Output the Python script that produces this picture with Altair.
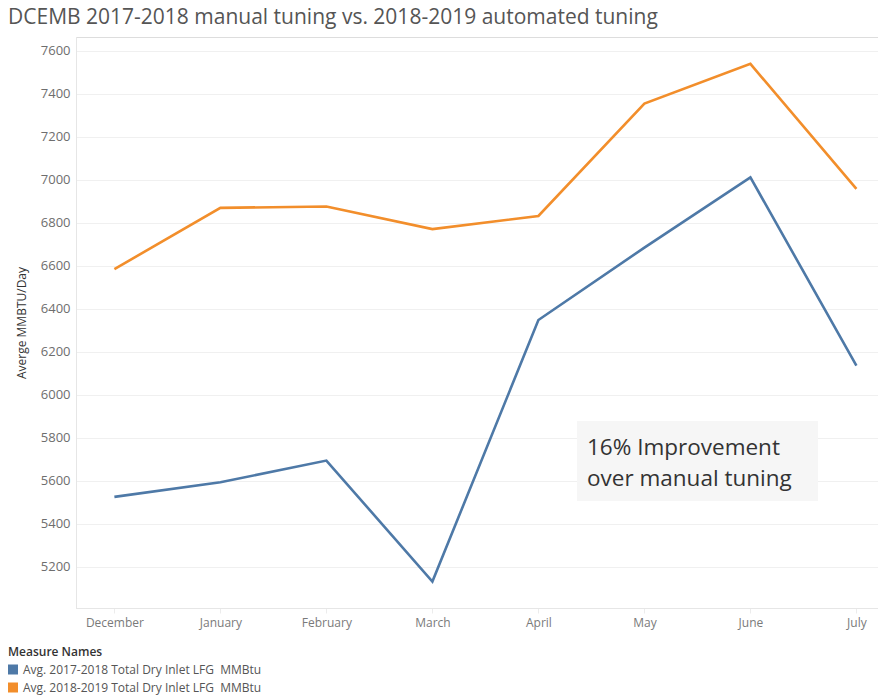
import altair as alt
import pandas as pd

months = ["December", "January", "February", "March", "April", "May", "June", "July"]
s1_name = "Avg. 2017-2018 Total Dry Inlet LFG\u00a0 MMBtu"
s2_name = "Avg. 2018-2019 Total Dry Inlet LFG\u00a0 MMBtu"
s1 = [5525, 5593, 5694, 5131, 6348, 6685, 7012, 6136]
s2 = [6585, 6870, 6876, 6771, 6832, 7355, 7540, 6958]
y_ticks = [5200, 5400, 5600, 5800, 6000, 6200, 6400, 6600, 6800, 7000, 7200, 7400, 7600]
title_text = "DCEMB 2017-2018 manual tuning vs. 2018-2019 automated tuning"
y_title = "Averge MMBTU/Day"
legend_title = "Measure Names"
note_lines = ["16% Improvement", "over manual tuning"]
series_names = [s1_name, s2_name]
colors = ["#4e79a7", "#f28e2b"]

df = pd.DataFrame({
    "Month": months * 2,
    "Measure": [s1_name] * len(months) + [s2_name] * len(months),
    "Value": s1 + s2,
})
legend_df = pd.DataFrame({"Measure": series_names})

FONT = "Open Sans"
color_scale = alt.Scale(domain=series_names, range=colors)

x_enc = alt.X("Month:N", sort=months,
              scale=alt.Scale(type="point", padding=0.283, align=0.64),
              axis=alt.Axis(title=None, labelAngle=0, labelFontSize=12, labelColor="#7a7a7a",
                            labelFont=FONT, labelPadding=4, domainColor="#e6e6e6",
                            tickColor="#ececec", tickSize=5, grid=False))
y_enc = alt.Y("Value:Q",
              scale=alt.Scale(domain=[5008, 7665], nice=False, zero=False),
              axis=alt.Axis(values=y_ticks, format="d", title=y_title, titleFontSize=12,
                            titleColor="#333333", titleFont=FONT, titleFontWeight="normal",
                            titlePadding=12, labelFontSize=13, labelColor="#6e6e6e", labelFont=FONT,
                            labelPadding=6, ticks=False, domainColor="#e6e6e6",
                            gridColor="#f0f0f0", gridWidth=1))

lines = alt.Chart(df).mark_line(strokeWidth=2.6).encode(
    x=x_enc, y=y_enc,
    color=alt.Color("Measure:N", scale=color_scale, legend=None),
)

# legend (drawn as marks below the plot)
leg_y = alt.Y("Measure:N", sort=series_names,
              scale=alt.Scale(type="point", domain=series_names, range=[632.5, 650.5], padding=0),
              axis=None)
leg_sym = alt.Chart(legend_df).mark_square(size=100, opacity=1).encode(
    x=alt.value(-63), y=leg_y,
    color=alt.Color("Measure:N", scale=color_scale, legend=None),
)
leg_lab = alt.Chart(legend_df).mark_text(
    align="left", baseline="middle", fontSize=12, font=FONT, color="#555555"
).encode(x=alt.value(-53), y=leg_y, text="Measure:N")
leg_title = alt.Chart(pd.DataFrame({"k": [0]})).mark_text(
    text=legend_title, align="left", baseline="middle", fontSize=12, font=FONT,
    fontWeight=600, color="#333333"
).encode(x=alt.value(-68), y=alt.value(615))

box = alt.Chart(pd.DataFrame({"k": [0]})).mark_rect(fill="#f6f6f6").encode(
    x=alt.value(501), x2=alt.value(742), y=alt.value(384), y2=alt.value(464)
)

note = alt.Chart(pd.DataFrame({"k": [0]})).mark_text(
    text=note_lines, align="left", baseline="alphabetic", fontSize=22.5, font=FONT,
    color="#333333", lineHeight=31
).encode(x=alt.value(511), y=alt.value(418))

title = alt.Chart(pd.DataFrame({"k": [0]})).mark_text(
    text=title_text, align="left", baseline="alphabetic", fontSize=21, font=FONT,
    color="#555555"
).encode(x=alt.value(-68), y=alt.value(-13))

chart = alt.layer(box, lines, note, title, leg_title, leg_sym, leg_lab).resolve_scale(
    y="independent"
).properties(
    width=802, height=571,
    autosize=alt.AutoSizeParams(type="none"),
    padding={"left": 68, "top": 29, "right": 0, "bottom": 88},
).configure_view(stroke=None).configure(background="white")

chart.save("out.html", embed_options={"renderer": "svg", "actions": False})
